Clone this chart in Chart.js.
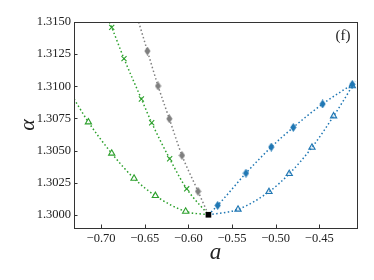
<!DOCTYPE html>
<html><head><meta charset="utf-8">
<script src="https://cdn.jsdelivr.net/npm/chart.js@4"></script>
<style>html,body{margin:0;padding:0;background:#fff}#w{width:374px;height:280px}</style>
</head><body><div id="w"><canvas id="c"></canvas></div>
<script>
// ---- data ----
const xTickValues = [-0.70, -0.65, -0.60, -0.55, -0.50, -0.45];
const yTickValues = [1.3000, 1.3025, 1.3050, 1.3075, 1.3100, 1.3125, 1.3150];
const xRange = [-0.731, -0.4068];
const yRange = [1.29897, 1.3150];

const minPoint = [-0.577, 1.3000];

const greenTriX = [-0.7145, -0.6878, -0.6622, -0.6378, -0.6031];
const greenTriY = [1.30721, 1.30478, 1.30283, 1.30148, 1.30026];
const greenTriLineStart = [-0.7309, 1.30901];

const greenXX = [-0.6878, -0.6737, -0.6538, -0.6420, -0.6214, -0.6019];
const greenXY = [1.31458, 1.31215, 1.30901, 1.30716, 1.30436, 1.30202];
const greenXLineStart = [-0.6905, 1.3150];

const grayDX = [-0.6469, -0.6347, -0.6218, -0.6073, -0.5889];
const grayDY = [1.31274, 1.31002, 1.30747, 1.30462, 1.30182];
const grayLineStart = [-0.6569, 1.3150];

const blueDX = [-0.5664, -0.5340, -0.5050, -0.4798, -0.4462, -0.4122];
const blueDY = [1.30073, 1.30324, 1.30527, 1.30680, 1.30862, 1.31015];

const blueTriX = [-0.5431, -0.5076, -0.4844, -0.4584, -0.4336, -0.4122];
const blueTriY = [1.30042, 1.30179, 1.30319, 1.30524, 1.30768, 1.31002];
const blueTriLineEnd = [-0.4090, 1.31040];

// ---- helpers ----
const GREEN = '#2ca02c', GRAY = '#7f7f7f', BLUE = '#1f77b4';
const pts = (xs, ys) => xs.map((x, i) => ({x: x, y: ys[i]}));
const P = (a) => ({x: a[0], y: a[1]});

function thinDiamond(color) {
  const c = document.createElement('canvas');
  c.width = 7; c.height = 9;
  const g = c.getContext('2d');
  g.fillStyle = color;
  g.beginPath();
  g.moveTo(3.5, 0); g.lineTo(6.6, 4.5); g.lineTo(3.5, 9); g.lineTo(0.4, 4.5);
  g.closePath(); g.fill();
  return c;
}

const lineDs = (data, color) => ({
  data: data, showLine: true, borderColor: color, borderWidth: 1.5,
  borderDash: [1.5, 2.4], pointRadius: 0, fill: false,
  cubicInterpolationMode: 'monotone', order: 10
});

const datasets = [
  lineDs([P(greenTriLineStart)].concat(pts(greenTriX, greenTriY), [P(minPoint)]), GREEN),
  lineDs([P(greenXLineStart)].concat(pts(greenXX, greenXY), [P(minPoint)]), GREEN),
  lineDs([P(grayLineStart)].concat(pts(grayDX, grayDY), [P(minPoint)]), GRAY),
  lineDs([P(minPoint)].concat(pts(blueDX, blueDY)), BLUE),
  lineDs([P(minPoint)].concat(pts(blueTriX, blueTriY), [P(blueTriLineEnd)]), BLUE),
  {data: pts(greenTriX, greenTriY), showLine: false, pointStyle: 'triangle', pointRadius: 3.6,
   borderColor: GREEN, backgroundColor: 'rgba(255,255,255,0.9)', borderWidth: 1.1, order: 1},
  {data: pts(greenXX, greenXY), showLine: false, pointStyle: 'crossRot', pointRadius: 3.6,
   borderColor: GREEN, borderWidth: 1.1, order: 1},
  {data: pts(grayDX, grayDY), showLine: false, pointStyle: thinDiamond(GRAY), order: 1},
  {data: pts(blueDX, blueDY), showLine: false, pointStyle: thinDiamond(BLUE), order: 1},
  {data: pts(blueTriX, blueTriY), showLine: false, pointStyle: 'triangle', pointRadius: 3.6,
   borderColor: BLUE, backgroundColor: 'rgba(31,119,180,0.12)', borderWidth: 1.1, order: 1},
  {data: [P(minPoint)], showLine: false, pointStyle: 'rect', pointRadius: 4,
   borderColor: '#000', backgroundColor: '#000', borderWidth: 0, order: 0}
];

const frame = {
  id: 'frame',
  afterDatasetsDraw(chart) {
    const {ctx, chartArea: a, scales: {x, y}} = chart;
    ctx.save();
    ctx.strokeStyle = '#333'; ctx.lineWidth = 1;
    ctx.beginPath();
    xTickValues.forEach(v => { const px = Math.round(x.getPixelForValue(v)) + 0.5;
      ctx.moveTo(px, a.bottom); ctx.lineTo(px, a.bottom - 3.5); });
    yTickValues.forEach(v => { const py = Math.round(y.getPixelForValue(v)) + 0.5;
      ctx.moveTo(a.left, py); ctx.lineTo(a.left + 3.5, py); });
    ctx.stroke();
    ctx.strokeRect(Math.round(a.left) + 0.5, Math.round(a.top) + 0.5,
      Math.round(a.right - a.left), Math.round(a.bottom - a.top));
    ctx.fillStyle = '#222';
    ctx.font = '15px "Liberation Serif", serif';
    ctx.textAlign = 'center'; ctx.textBaseline = 'middle';
    ctx.fillText('(f)', a.right - 14, a.top + 14);
    ctx.restore();
  }
};

const tickFont = {family: '"Liberation Serif", serif', size: 12.5};
new Chart(document.getElementById('c'), {
  type: 'scatter',
  data: {datasets: datasets},
  options: {
    responsive: true, maintainAspectRatio: false, animation: false,
    layout: {padding: {left: 0, top: 22, right: 17, bottom: 0}},
    plugins: {legend: {display: false}, tooltip: {enabled: false}},
    scales: {
      x: {
        type: 'linear', min: xRange[0], max: xRange[1],
        grid: {display: false, drawTicks: false}, border: {display: false},
        afterBuildTicks: s => { s.ticks = xTickValues.map(v => ({value: v})); },
        afterFit: s => { s.height = 52; },
        ticks: {padding: 3, color: '#222', font: tickFont, maxRotation: 0,
          callback: v => (v < 0 ? '\u2212' : '') + Math.abs(v).toFixed(2)},
        title: {display: true, text: 'a', color: '#222',
          font: {family: '"Liberation Serif", serif', size: 23, style: 'italic', lineHeight: 1},
          padding: {top: 0, bottom: 16}}
      },
      y: {
        type: 'linear', min: yRange[0], max: yRange[1],
        grid: {display: false, drawTicks: false}, border: {display: false},
        afterBuildTicks: s => { s.ticks = yTickValues.map(v => ({value: v})); },
        afterFit: s => { s.width = 74; },
        ticks: {padding: 3, color: '#222', font: tickFont,
          callback: v => v.toFixed(4)},
        title: {display: true, text: '\u03b1', color: '#222',
          font: {family: '"Liberation Serif", serif', size: 22, style: 'italic', lineHeight: 1},
          padding: {top: 17, bottom: 0}}
      }
    }
  },
  plugins: [frame]
});
</script></body></html>
